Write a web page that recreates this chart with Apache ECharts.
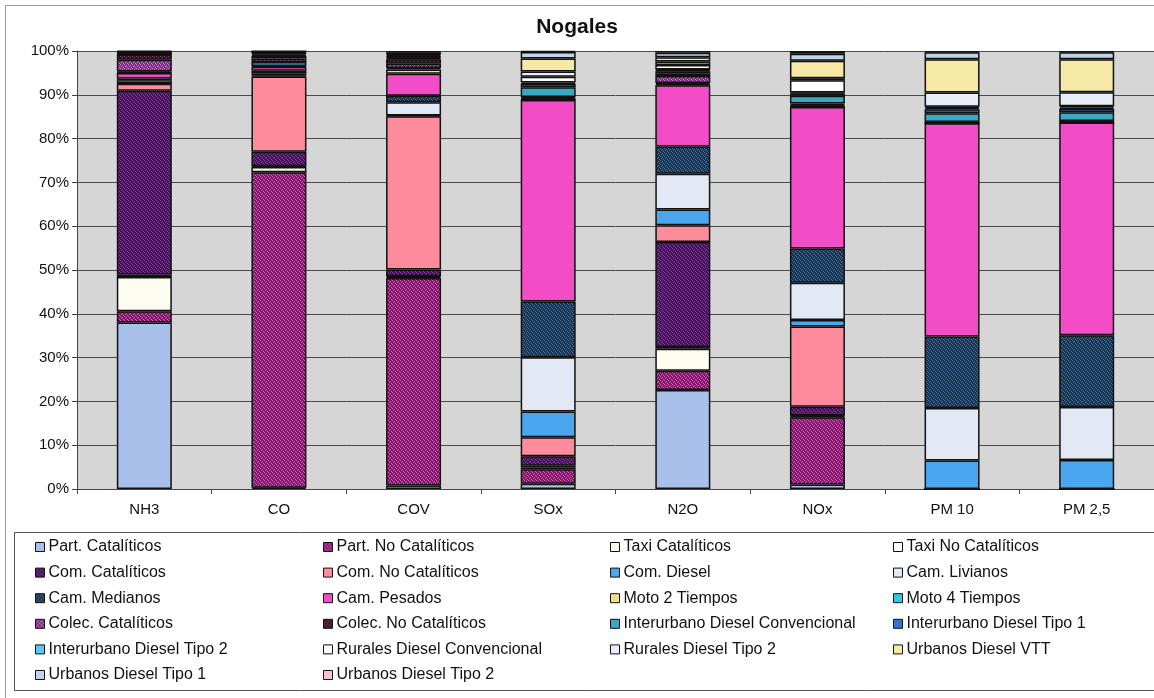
<!DOCTYPE html>
<html>
<head>
<meta charset="utf-8">
<title>Nogales</title>
<script src="https://cdn.jsdelivr.net/npm/echarts@6/dist/echarts.min.js"></script>
<style>
  html, body { margin: 0; padding: 0; background: #ffffff; }
  #chart { width: 1154px; height: 698px; }
</style>
</head>
<body>
<div id="chart"></div>
<script>
// Pollutants (x categories) and percentage tick labels
const categories = ['NH3', 'CO', 'COV', 'SOx', 'N2O', 'NOx', 'PM 10', 'PM 2,5'];
const yTicks = ['0%', '10%', '20%', '30%', '40%', '50%', '60%', '70%', '80%', '90%', '100%'];

// Share (%) of each vehicle class, one value per pollutant in category order
const partCataliticos       = [38.0,  0.3,  0.8,  1.2, 22.6,  1.0,  0.0,  0.0];
const partNoCataliticos     = [ 2.6, 72.0, 47.4,  3.3,  4.4, 15.4,  0.0,  0.0];
const taxiCataliticos       = [ 7.8,  1.2,  0.3,  0.4,  5.0,  0.2,  0.0,  0.0];
const taxiNoCataliticos     = [ 0.6,  0.2,  0.1,  0.4,  0.4,  0.2,  0.0,  0.0];
const comCataliticos        = [41.9,  3.3,  1.5,  2.2, 24.0,  2.0,  0.0,  0.0];
const comNoCataliticos      = [ 1.6, 17.2, 35.0,  4.3,  3.8, 18.3,  0.0,  0.0];
const comDiesel             = [ 0.1,  0.2,  0.2,  5.9,  3.6,  1.5,  6.5,  6.6];
const camLivianos           = [ 0.7,  0.5,  3.0, 12.4,  8.2,  8.5, 12.0, 12.1];
const camMedianos           = [ 0.4,  0.6,  1.5, 12.7,  6.2,  7.8, 16.3, 16.4];
const camPesados            = [ 1.3,  0.9,  5.0, 46.0, 14.0, 32.3, 48.7, 48.6];
const moto2Tiempos          = [ 0.1,  0.2,  1.0,  0.1,  0.2,  0.1,  0.0,  0.0];
const moto4Tiempos          = [ 0.2,  0.9,  0.3,  0.2,  0.3,  0.2,  0.0,  0.0];
const colecCataliticos      = [ 2.7,  0.8,  1.0,  0.1,  1.6,  0.2,  0.1,  0.1];
const colecNoCataliticos    = [ 1.2,  0.6,  1.0,  0.3,  0.6,  0.3,  0.2,  0.2];
const interDieselConv       = [ 0.1,  0.3,  0.3,  2.2,  0.5,  1.8,  2.0,  2.0];
const interDieselTipo1      = [ 0.1,  0.2,  0.2,  0.8,  0.2,  0.5,  0.9,  0.8];
const interDieselTipo2      = [ 0.1,  0.2,  0.2,  0.3,  0.2,  0.2,  0.3,  0.3];
const ruralesDieselConv     = [ 0.1,  0.1,  0.3,  1.3,  1.0,  2.8,  0.3,  0.3];
const ruralesDieselTipo2    = [ 0.1,  0.1,  0.2,  1.2,  0.8,  0.5,  3.2,  3.2];
const urbanosDieselVTT      = [ 0.1,  0.1,  0.4,  3.0,  1.0,  4.0,  7.6,  7.5];
const urbanosDieselTipo1    = [ 0.1,  0.1,  0.3,  1.5,  1.0,  1.6,  1.6,  1.6];
const urbanosDieselTipo2    = [ 0.1,  0.1,  0.1,  0.2,  0.4,  0.6,  0.3,  0.3];

// Small repeating dot pattern for the stippled fills
function stipple(base, dot) {
  const c = document.createElement('canvas');
  c.width = 4; c.height = 4;
  const g = c.getContext('2d');
  g.fillStyle = base; g.fillRect(0, 0, 4, 4);
  g.fillStyle = dot;
  [[0, 0], [2, 1], [1, 2], [3, 3]].forEach(p => g.fillRect(p[0], p[1], 1, 1));
  return { image: c, repeat: 'repeat' };
}

const seriesDefs = [
  ['Part. Catalíticos', partCataliticos, '#a9c1ea'],
  ['Part. No Catalíticos', partNoCataliticos, stipple('#80166a', '#e068c0')],
  ['Taxi Catalíticos', taxiCataliticos, '#fffdf2'],
  ['Taxi No Catalíticos', taxiNoCataliticos, '#ffffff'],
  ['Com. Catalíticos', comCataliticos, stipple('#3e1552', '#9a3cb4')],
  ['Com. No Catalíticos', comNoCataliticos, '#ff8b9d'],
  ['Com. Diesel', comDiesel, '#4aa7ef'],
  ['Cam. Livianos', camLivianos, '#e3e9f4'],
  ['Cam. Medianos', camMedianos, stipple('#1e2e44', '#3a86c0')],
  ['Cam. Pesados', camPesados, '#f24cc7'],
  ['Moto 2 Tiempos', moto2Tiempos, '#f4df86'],
  ['Moto 4 Tiempos', moto4Tiempos, '#36c6ea'],
  ['Colec. Catalíticos', colecCataliticos, stipple('#7a2a7c', '#e08ee0')],
  ['Colec. No Catalíticos', colecNoCataliticos, stipple('#2c1422', '#a04072')],
  ['Interurbano Diesel Convencional', interDieselConv, '#3aa9c2'],
  ['Interurbano Diesel Tipo 1', interDieselTipo1, '#2f76cf'],
  ['Interurbano Diesel Tipo 2', interDieselTipo2, '#5ccaf2'],
  ['Rurales Diesel Convencional', ruralesDieselConv, '#ffffff'],
  ['Rurales Diesel Tipo 2', ruralesDieselTipo2, '#e8eef7'],
  ['Urbanos Diesel VTT', urbanosDieselVTT, '#f6e8a6'],
  ['Urbanos Diesel Tipo 1', urbanosDieselTipo1, '#c2d3ec'],
  ['Urbanos Diesel Tipo 2', urbanosDieselTipo2, '#f2c2d4']
];

const FONT = 'Liberation Sans, Arial, sans-serif';

const series = seriesDefs.map(([name, data, color]) => ({
  name: name,
  type: 'bar',
  stack: 'total',
  barWidth: 55,
  data: data,
  itemStyle: { color: color, borderColor: '#111111', borderWidth: 1.5 },
  emphasis: { disabled: true }
}));

// Four legend columns, filled row by row
const names = seriesDefs.map(d => d[0]);
const colX = [35, 323, 610, 893];
const legends = colX.map((x, col) => ({
  orient: 'vertical',
  left: x,
  top: 539,
  padding: 0,
  itemWidth: 9,
  itemHeight: 9,
  itemGap: 9.6,
  selectedMode: false,
  icon: 'rect',
  data: names.filter((_, i) => i % 4 === col),
  itemStyle: { borderColor: '#111111', borderWidth: 1 },
  textStyle: { fontFamily: FONT, fontSize: 16, color: '#111', lineHeight: 16, padding: [0, 0, 0, -1] }
}));

const chart = echarts.init(document.getElementById('chart'), null, { renderer: 'canvas' });
chart.setOption({
  animation: false,
  backgroundColor: '#ffffff',
  title: {
    text: 'Nogales',
    left: 'center',
    top: 12,
    textStyle: { fontFamily: FONT, fontSize: 21, fontWeight: 'bold', color: '#111' }
  },
  legend: legends,
  grid: {
    left: 77, top: 51, right: 0, bottom: 209,
    show: true, backgroundColor: '#d6d6d6', borderWidth: 0
  },
  xAxis: {
    type: 'category',
    data: categories,
    axisLine: { lineStyle: { color: '#444', width: 1 } },
    axisTick: { show: true, length: 5, lineStyle: { color: '#444' } },
    axisLabel: { fontFamily: FONT, fontSize: 15, color: '#111', margin: 13 }
  },
  yAxis: {
    type: 'value',
    min: 0, max: 100, interval: 10,
    axisLine: { show: true, lineStyle: { color: '#444', width: 1 } },
    axisTick: { show: true, length: 5, lineStyle: { color: '#444' } },
    splitLine: { lineStyle: { color: '#4a4a4a', width: 1 } },
    axisLabel: {
      fontFamily: FONT, fontSize: 15, color: '#111', margin: 8,
      formatter: v => yTicks[Math.round(v / 10)]
    }
  },
  graphic: [
    { type: 'rect', shape: { x: 5.5, y: 5.5, width: 1160, height: 700 },
      style: { fill: 'none', stroke: '#9a9a9a', lineWidth: 1 }, silent: true },
    { type: 'rect', shape: { x: 14.5, y: 532.5, width: 1150, height: 158 },
      style: { fill: 'none', stroke: '#555', lineWidth: 1 }, silent: true }
  ],
  series: series
});
</script>
</body>
</html>
